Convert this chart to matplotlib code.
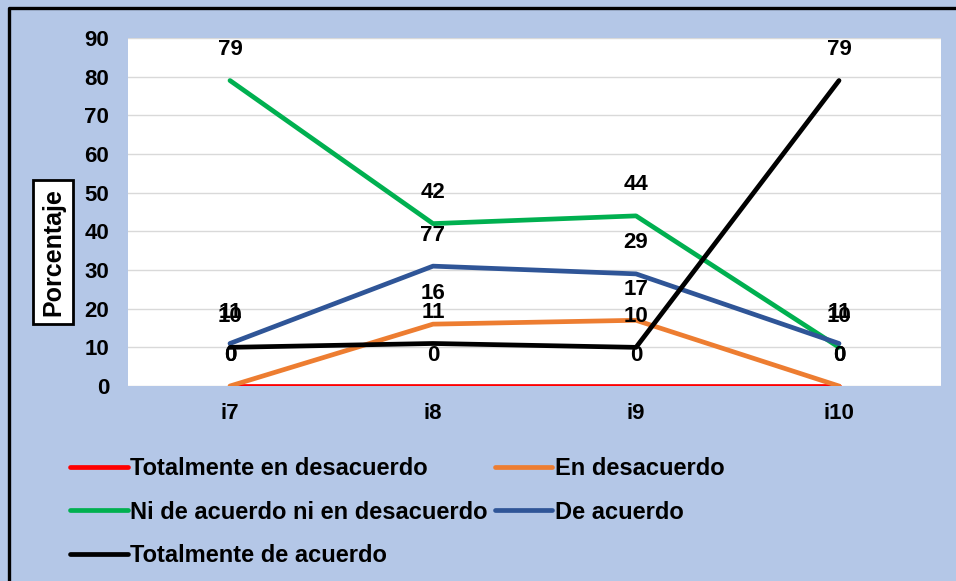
import matplotlib.pyplot as plt
from matplotlib.lines import Line2D

# data
categories = ["i7", "i8", "i9", "i10"]
series_names = ["Totalmente en desacuerdo", "En desacuerdo",
                "Ni de acuerdo ni en desacuerdo", "De acuerdo",
                "Totalmente de acuerdo"]
tot_desacuerdo = [0, 0, 0, 0]
en_desacuerdo = [0, 16, 17, 0]
ni_ni = [79, 42, 44, 10]
de_acuerdo = [11, 31, 29, 11]
tot_acuerdo = [10, 11, 10, 79]
# data labels as printed in the chart (one differs from its point)
lbl_tot_desacuerdo = ["0", "0", "0", "0"]
lbl_en_desacuerdo = ["0", "16", "17", "0"]
lbl_ni_ni = ["79", "42", "44", "10"]
lbl_de_acuerdo = ["11", "77", "29", "11"]
lbl_tot_acuerdo = ["10", "11", "10", "79"]

colors = ["#FF0000", "#ED7D31", "#00B050", "#2F5597", "#000000"]
values = [tot_desacuerdo, en_desacuerdo, ni_ni, de_acuerdo, tot_acuerdo]
labels = [lbl_tot_desacuerdo, lbl_en_desacuerdo, lbl_ni_ni,
          lbl_de_acuerdo, lbl_tot_acuerdo]

plt.rcParams['font.family'] = ['Liberation Sans', 'DejaVu Sans']
plt.rcParams['font.weight'] = 'bold'

fig = plt.figure(figsize=(9.56, 5.81), dpi=100)
fig.patch.set_facecolor("#B4C7E7")
# outer frame: only left and top edges are inside the picture
fig.lines.append(Line2D([0.0099, 0.0099, 1.0], [0.0, 0.9854, 0.9854],
                        transform=fig.transFigure, color="black", linewidth=2.4))

ax = fig.add_axes([0.1344, 0.3356, 0.8494, 0.599])
ax.set_facecolor("white")
x = list(range(len(categories)))

lines = []
for vals, col, name in zip(values, colors, series_names):
    ln, = ax.plot(x, vals, color=col, linewidth=3.4, label=name,
                  solid_capstyle='round')
    lines.append(ln)

for vals, labs in zip(values, labels):
    for xi, v, t in zip(x, vals, labs):
        ax.annotate(t, (xi, v), xytext=(0, 22.3), textcoords="offset points",
                    ha="center", va="center", fontsize=16, fontweight="bold")

ax.set_xlim(-0.5, 3.5)
ax.set_ylim(0, 90)
ax.set_yticks(range(0, 91, 10))
ax.set_xticks(x)
ax.set_xticklabels(categories)
ax.tick_params(axis="both", length=0, labelsize=16)
ax.tick_params(axis="y", pad=14)
ax.tick_params(axis="x", pad=12)
ax.grid(axis="y", color="#D9D9D9", linewidth=1)
ax.set_axisbelow(True)
for s in ax.spines.values():
    s.set_visible(False)

fig.text(0.0555, 0.566, "Porcentaje", rotation=90, ha="center", va="center",
         fontsize=18, fontweight="bold",
         bbox=dict(facecolor="white", edgecolor="black", linewidth=2, pad=6))

order = [0, 2, 4, 1, 3]
fig.legend([lines[i] for i in order], [series_names[i] for i in order],
           loc="upper left", bbox_to_anchor=(0.073, 1 - 457 / 581), ncol=2,
           frameon=False, fontsize=17, handlelength=2.45, handletextpad=0.1,
           columnspacing=0.3, labelspacing=0.87, borderaxespad=0, borderpad=0)

fig.savefig("out.png", dpi=100, facecolor=fig.get_facecolor())
